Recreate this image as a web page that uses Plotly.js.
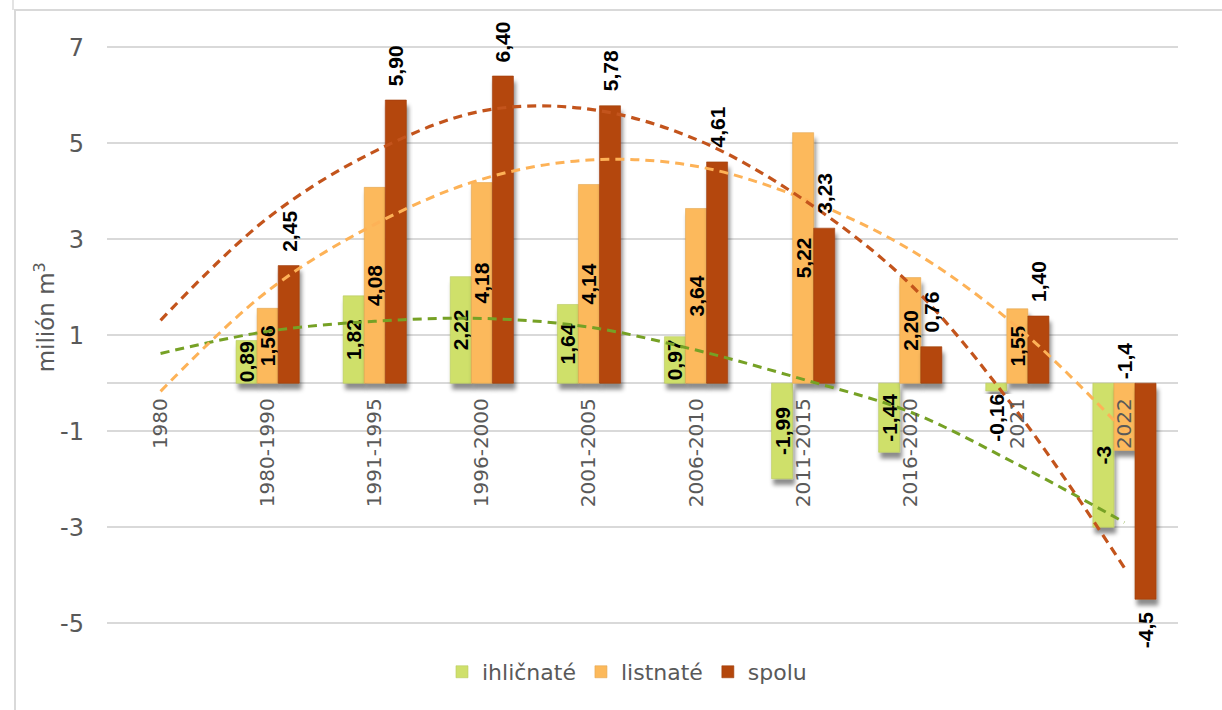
<!DOCTYPE html>
<html>
<head>
<meta charset="utf-8">
<script src="https://cdn.plot.ly/plotly-3.0.1.min.js"></script>
<style>
  html, body { margin: 0; padding: 0; background: #ffffff; }
  #wrap { position: relative; width: 1222px; height: 710px; overflow: hidden; }
  #chart { position: absolute; left: 0; top: 0; width: 1222px; height: 710px; }
  #frame { position: absolute; left: 14px; top: 9px; width: 1300px; height: 800px;
           border-top: 2px solid #d9d9d9; border-left: 2px solid #d9d9d9; pointer-events: none; }
  #frame2 { position: absolute; left: 12px; top: 0px; width: 2px; height: 10px; background: #e3e3e3; pointer-events: none; }
</style>
</head>
<body>
<div id="wrap">
  <div id="chart"></div>
  <div id="frame"></div>
  <div id="frame2"></div>
</div>
<script>
// ---- data ----
const categories = ['1980','1980-1990','1991-1995','1996-2000','2001-2005','2006-2010','2011-2015','2016-2020','2021','2022'];
const ihlicnate = [null, 0.89, 1.82, 2.22, 1.64, 0.97, -1.99, -1.44, -0.16, -3];
const listnate  = [null, 1.56, 4.08, 4.18, 4.14, 3.64, 5.22, 2.20, 1.55, -1.4];
const spolu     = [null, 2.45, 5.90, 6.40, 5.78, 4.61, 3.23, 0.76, 1.40, -4.5];
const ihlLabels   = ['', '0,89', '1,82', '2,22', '1,64', '0,97', '-1,99', '-1,44', '-0,16', '-3'];
const listLabels  = ['', '1,56', '4,08', '4,18', '4,14', '3,64', '5,22', '2,20', '1,55', '-1,4'];
const spoluLabels = ['', '2,45', '5,90', '6,40', '5,78', '4,61', '3,23', '0,76', '1,40', '-4,5'];
// trendlines (value at each category)
const ihlTrend   = [0.62, 1.08, 1.29, 1.35, 1.17, 0.69, 0.08, -0.60, -1.69, -2.90];
const listTrend  = [-0.17, 1.92, 3.31, 4.25, 4.65, 4.52, 3.85, 2.78, 1.17, -1.00];
const spoluTrend = [1.31, 3.44, 4.83, 5.67, 5.71, 5.08, 3.83, 2.06, -0.60, -3.85];
const seriesNames = ['ihličnaté', 'listnaté', 'spolu'];
const yTickVals = [-5, -3, -1, 1, 3, 5, 7];
const yTickText = ['-5', '-3', '-1', '1', '3', '5', '7'];
const yTitle = 'milión m<sup>3</sup>';

// ---- styles ----
const FONT = '"DejaVu Sans", "Liberation Sans", sans-serif';
const LBL = '"Liberation Sans", Arial, sans-serif';
const GREEN = '#cfe06b', ORANGE = '#fcb95b', BROWN = '#b4470c';
const GREEN_T = '#76a125', ORANGE_T = '#fdb257', BROWN_T = '#c3541c';
const labelFont = { family: LBL, size: 21, color: '#000000', weight: 'bold' };
const GRAY = '#595959';

const bargap = 0.41;
const lastIdx = categories.length - 1;
const ihlPos = ihlicnate.map(v => v === null ? 'none' : (Math.abs(v) < 0.5 ? 'outside' : 'inside'));
const listPos = listnate.map((v, i) => (v === null || i === lastIdx) ? 'none' : 'inside');

const traces = [
  { type: 'bar', name: seriesNames[0], x: categories, y: ihlicnate, text: ihlLabels,
    textposition: ihlPos, insidetextanchor: 'middle', textangle: -90, constraintext: 'none',
    cliponaxis: false, textfont: labelFont, insidetextfont: labelFont, outsidetextfont: labelFont,
    marker: { color: GREEN, line: { color: '#b9c95e', width: 0.6 } }, hoverinfo: 'skip' },
  { type: 'bar', name: seriesNames[1], x: categories, y: listnate, text: listLabels,
    textposition: listPos, insidetextanchor: 'middle', textangle: -90, constraintext: 'none',
    cliponaxis: false, textfont: labelFont, insidetextfont: labelFont, outsidetextfont: labelFont,
    marker: { color: ORANGE, line: { color: '#e3a650', width: 0.6 } }, hoverinfo: 'skip' },
  { type: 'bar', name: seriesNames[2], x: categories, y: spolu, cliponaxis: false,
    marker: { color: BROWN, line: { color: '#9e3e0a', width: 0.6 } }, hoverinfo: 'skip' },
  { type: 'scatter', mode: 'lines', x: categories, y: ihlTrend, showlegend: false, hoverinfo: 'skip',
    line: { color: GREEN_T, width: 3, dash: '9px,6px', shape: 'spline', smoothing: 1 } },
  { type: 'scatter', mode: 'lines', x: categories, y: listTrend, showlegend: false, hoverinfo: 'skip',
    line: { color: ORANGE_T, width: 3, dash: '9px,6px', shape: 'spline', smoothing: 1 } },
  { type: 'scatter', mode: 'lines', x: categories, y: spoluTrend, showlegend: false, hoverinfo: 'skip',
    line: { color: BROWN_T, width: 3.2, dash: '9px,6px', shape: 'spline', smoothing: 1 } }
];

// value labels of the "spolu" bars, above / below each bar end
const barW = (1 - bargap) / 3;
const spoluAnn = spolu.map((v, i) => v === null ? null : {
  xref: 'x', yref: 'y', x: i + barW, y: v, text: spoluLabels[i], textangle: -90,
  yanchor: v >= 0 ? 'bottom' : 'top', yshift: v >= 0 ? 12 : -10, showarrow: false, font: labelFont
}).filter(a => a !== null);

const yMin = -5.6, yMax = 7.4;
const layout = {
  width: 1222, height: 710,
  margin: { l: 107, r: 44, t: 28, b: 58, autoexpand: false },
  paper_bgcolor: '#ffffff', plot_bgcolor: '#ffffff',
  font: { family: FONT, color: GRAY },
  barmode: 'group', bargap: bargap, bargroupgap: 0,
  showlegend: true,
  legend: { orientation: 'h', x: 0.4855, xanchor: 'center', y: -0.032, yanchor: 'middle',
            font: { family: FONT, size: 22, color: GRAY }, traceorder: 'normal',
            itemwidth: 30, bgcolor: 'rgba(0,0,0,0)' },
  xaxis: { type: 'category', categoryorder: 'array', categoryarray: categories,
           range: [-0.5, lastIdx + 0.5], anchor: 'free', position: (0 - yMin) / (yMax - yMin),
           tickangle: -90, tickfont: { family: FONT, size: 20, color: GRAY },
           showgrid: false, showline: false, zeroline: false, ticks: '',
           ticklabelstandoff: 10, automargin: false, fixedrange: true },
  yaxis: { range: [yMin, yMax], tickvals: yTickVals, ticktext: yTickText,
           tickfont: { family: FONT, size: 24, color: GRAY },
           gridcolor: '#d9d9d9', gridwidth: 1.5, zeroline: true, zerolinecolor: '#d9d9d9',
           zerolinewidth: 1.5, showline: false, ticks: '', ticklabelstandoff: 22,
           automargin: false, fixedrange: true },
  annotations: [
    { xref: 'paper', yref: 'paper', x: -0.0584, y: 0.537, xanchor: 'center', yanchor: 'middle',
      text: yTitle, textangle: -90, showarrow: false, font: { family: FONT, size: 23, color: GRAY } },
    { xref: 'x', yref: 'y', x: lastIdx, y: 0, yanchor: 'bottom',
      text: listLabels[lastIdx], textangle: -90, showarrow: false, yshift: 2,
      font: labelFont }
  ].concat(spoluAnn)
};

Plotly.newPlot('chart', traces, layout, { staticPlot: true, displayModeBar: false }).then(gd => {
  // soft Excel-like shadow under the bars
  const svg = gd.querySelector('.main-svg');
  const NS = 'http://www.w3.org/2000/svg';
  const defs = document.createElementNS(NS, 'defs');
  const f = document.createElementNS(NS, 'filter');
  f.setAttribute('id', 'barShadow');
  f.setAttribute('x', '-30%'); f.setAttribute('y', '-30%');
  f.setAttribute('width', '160%'); f.setAttribute('height', '160%');
  const ds = document.createElementNS(NS, 'feDropShadow');
  ds.setAttribute('dx', '2'); ds.setAttribute('dy', '6'); ds.setAttribute('stdDeviation', '2.2');
  ds.setAttribute('flood-color', '#000'); ds.setAttribute('flood-opacity', '0.45');
  f.appendChild(ds); defs.appendChild(f); svg.insertBefore(defs, svg.firstChild);
  gd.querySelectorAll('.barlayer .point path').forEach(p => p.setAttribute('filter', 'url(#barShadow)'));
});
</script>
</body>
</html>
